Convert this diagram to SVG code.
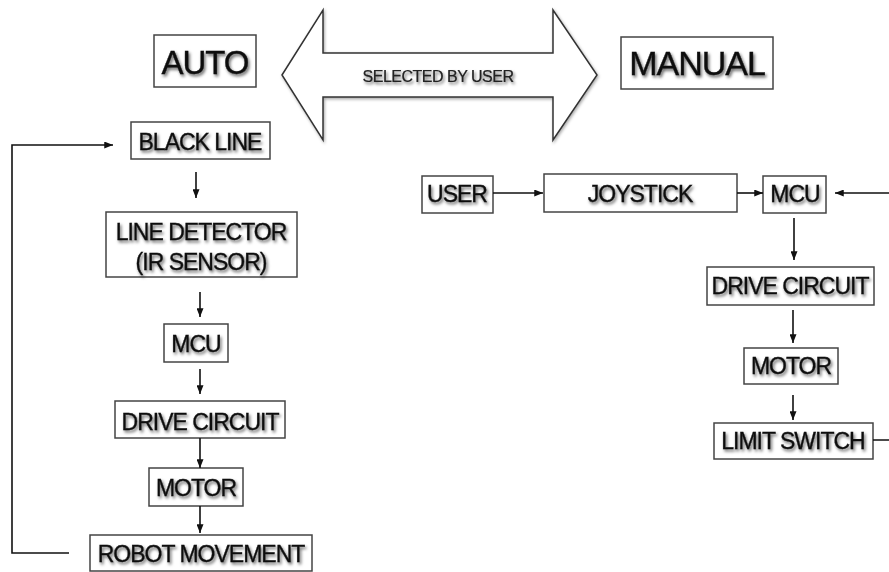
<svg xmlns="http://www.w3.org/2000/svg" width="889" height="572" viewBox="0 0 889 572">
<style>
.box{fill:#fff;stroke:#444;stroke-width:1.5}
.t{font-family:"Liberation Sans",Arial,sans-serif;font-size:23px;letter-spacing:-1px;fill:#111;stroke:#111;stroke-width:0.35px;text-anchor:middle;filter:url(#sh)}
.big{font-size:33px}
.c{fill:none;stroke:#111;stroke-width:1.6}
.a{marker-end:url(#ah)}
</style>
<defs>
<filter id="sh" x="-10%" y="-30%" width="120%" height="160%">
<feDropShadow dx="1.5" dy="2.2" stdDeviation="1.4" flood-color="#000" flood-opacity="0.6"/>
</filter>
<filter id="sh2" x="-10%" y="-10%" width="120%" height="120%">
<feDropShadow dx="1" dy="1.5" stdDeviation="1.5" flood-color="#000" flood-opacity="0.35"/>
</filter>
<marker id="ah" viewBox="0 0 10 8" refX="10" refY="4" markerWidth="9" markerHeight="7" markerUnits="userSpaceOnUse" orient="auto">
<path d="M0,0 L10,4 L0,8 Z" fill="#111"/>
</marker>
</defs>

<g id="selector">
<polygon points="282,75 323,10 323,53 553,53 553,10 597,75 553,140 553,97 323,97 323,140" fill="#fff" stroke="#333" stroke-width="1.5" filter="url(#sh2)"/>
<text class="t" x="438" y="82" style="font-size:16px;letter-spacing:-0.5px;stroke-width:0.2px;fill:#222">SELECTED BY USER</text>
</g>

<g id="auto">
<rect class="box" x="154" y="35" width="102" height="52"/>
<text class="t big" x="205" y="74">AUTO</text>
</g>
<g id="manual">
<rect class="box" x="621" y="37" width="152" height="52"/>
<text class="t big" x="697" y="75" style="font-size:34px">MANUAL</text>
</g>

<g id="a-blackline">
<rect class="box" x="131" y="122" width="139" height="37"/>
<text class="t" x="200" y="150">BLACK LINE</text>
</g>
<g id="a-linedetector">
<rect class="box" x="106" y="212" width="191" height="65"/>
<text class="t" x="201" y="240">LINE DETECTOR</text>
<text class="t" x="201" y="270">(IR SENSOR)</text>
</g>
<g id="a-mcu">
<rect class="box" x="164" y="324" width="64" height="38"/>
<text class="t" x="196" y="352">MCU</text>
</g>
<g id="a-drive">
<rect class="box" x="115" y="401" width="170" height="37"/>
<text class="t" x="200" y="430">DRIVE CIRCUIT</text>
</g>
<g id="a-motor">
<rect class="box" x="149" y="468" width="94" height="38"/>
<text class="t" x="196" y="496">MOTOR</text>
</g>
<g id="a-robot">
<rect class="box" x="90" y="535" width="222" height="36"/>
<text class="t" x="201" y="562">ROBOT MOVEMENT</text>
</g>

<g id="m-user">
<rect class="box" x="422" y="176" width="71" height="37"/>
<text class="t" x="457" y="202">USER</text>
</g>
<g id="m-joystick">
<rect class="box" x="544" y="174" width="193" height="38"/>
<text class="t" x="640" y="202">JOYSTICK</text>
</g>
<g id="m-mcu">
<rect class="box" x="763" y="176" width="63" height="37"/>
<text class="t" x="795" y="202">MCU</text>
</g>
<g id="m-drive">
<rect class="box" x="707" y="267" width="167" height="38"/>
<text class="t" x="790" y="294">DRIVE CIRCUIT</text>
</g>
<g id="m-motor">
<rect class="box" x="744" y="348" width="94" height="36"/>
<text class="t" x="791" y="374">MOTOR</text>
</g>
<g id="m-limit">
<rect class="box" x="714" y="423" width="159" height="36"/>
<text class="t" x="793" y="449">LIMIT SWITCH</text>
</g>

<g id="connectors">
<path class="c a" d="M69,553 H12 V145 H113"/>
<path class="c a" d="M196,172 V198"/>
<path class="c a" d="M200,292 V317"/>
<path class="c a" d="M200,369 V394"/>
<path class="c a" d="M200,438 V468"/>
<path class="c a" d="M200,506 V533"/>
<path class="c a" d="M493,193 H543"/>
<path class="c a" d="M737,193 H763"/>
<path class="c a" d="M873,440 H896 V193 H835"/>
<path class="c a" d="M794,218 V260"/>
<path class="c a" d="M793,310 V343"/>
<path class="c a" d="M793,395 V420"/>
</g>
</svg>
